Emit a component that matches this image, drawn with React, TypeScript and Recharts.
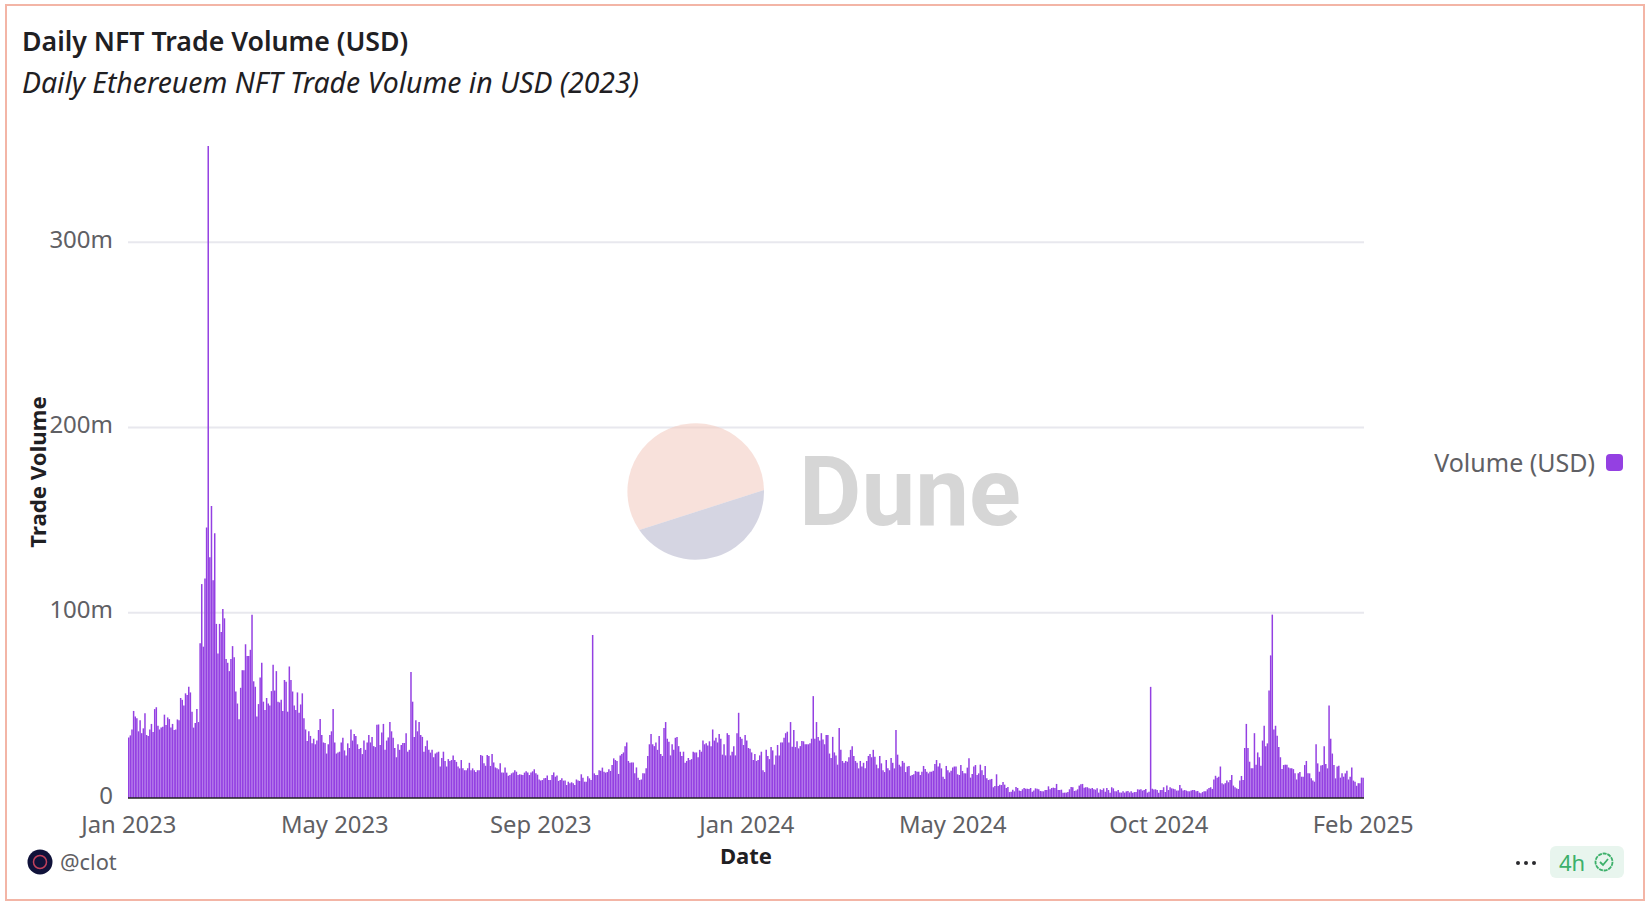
import { Bar, BarChart, CartesianGrid, Legend, XAxis, YAxis } from "recharts"

// daily volume in millions of USD, in date order
const volumeEarly2023 = [
  32.7, 33.8, 37, 47, 44, 43, 36, 42, 35, 37.6, 45.7, 34, 33.5, 37, 40, 35.6, 48, 49, 39, 37, 38, 38.5, 45, 39.4, 43.5,
  42.6, 38, 40, 36.7, 37, 42.4, 42, 54, 53, 50, 56.5, 55.6, 60, 57, 46.6, 38, 40.5, 48, 41, 83.6, 115.5, 81.7, 118.5,
  146, 352, 130, 157.7, 117.6, 143, 94, 78, 94, 89.6, 102, 97, 75, 73, 68.5, 75, 82, 76, 57.5, 51, 42.5, 59.5, 69, 69,
  83, 76.6, 76.6, 80, 99, 63, 60, 44, 50.7, 65, 73, 52, 47.5, 54, 51, 50, 57.7, 72, 58, 68.5, 52, 51.6, 53, 47, 63.7,
  62.8, 46.6, 71, 63.7, 57.5, 50, 47.5, 57, 46, 50.5, 56.5, 43, 37, 30.8, 36, 33.5, 29.5, 32, 29, 31, 36.7, 42.6, 34,
  30, 29.7, 24, 29, 34, 36, 48, 30, 24, 24.6, 25, 30, 32.5, 25.7, 23, 29.5, 27, 37, 31, 34.5, 33.5, 29, 26.4, 27, 23.7,
  31, 26, 30, 34, 30, 33, 28, 27.5, 39.5, 39.7, 28.6, 35.4, 40, 26, 31, 32.7, 41, 36, 32.5, 27, 22, 29, 26, 28.6, 29.7,
  29.7, 35, 25, 26, 68, 52, 33,
]
const volumeSummer2023 = [
  42, 36, 41, 34, 33, 25, 28, 31, 26, 24.5, 26, 22, 24, 24.5, 25, 17, 21.6, 25, 20, 17, 21, 20, 20.5, 23, 20.5, 19.5,
  17, 16, 20.5, 16, 15, 15, 16, 19, 15, 16, 15, 14, 15, 15,
]
const volumeAutumn2023 = [
  23.2, 22.8, 18.7, 17.4, 23.2, 22.7, 17.3, 23.7, 19.2, 16.5, 16, 15.5, 18.7, 13.7, 13.7, 16.5, 13.7, 12, 12.4, 13.3,
  13.8, 15, 14.2, 12.4, 12.8, 12.6, 12.4, 13.7, 14.4, 13.8, 12.4, 13.7, 14.4, 15.5, 13.3, 12.6, 10, 9.4, 9.7, 10.6,
  10.8, 12.2, 9.7, 9.7, 12.4, 13.8, 11.5, 12.2, 9.2, 9.7, 10.6, 9.4, 9.4, 7, 8.8, 8, 8.5, 8, 7, 10, 9.4, 9.2, 12.8, 11,
  8.8, 8.8, 11.7, 10.6, 9.7, 88,
]
const volumeLate2023 = [
  13.3, 12.4, 12.4, 15, 14.7, 16.4, 14.2, 13.7, 14, 15.5, 14.6, 17.8, 21.4, 20.5, 20, 13, 23, 23.7, 24.6, 27.9, 30, 20,
  19, 19.2, 19.2, 13.3, 16.5, 11, 9.7, 10, 13.3, 13.3, 16, 22.7, 29, 34.5, 29, 28, 30, 26, 33.5, 23.7, 22.7, 37.8, 41,
  32, 30.4, 23, 29, 26, 32.5, 33, 28, 25, 22.7, 25, 19, 20, 21.6, 20.5, 21, 25, 24.5, 24.6, 22, 26, 25,
]
const volumeEarly2024 = [
  31, 29, 29.5, 28.4, 30.6, 28, 37, 31, 32.5, 30, 34.5, 32, 23.4, 29, 23, 35, 34, 23, 25, 28, 23, 35, 46, 33, 32, 28.6,
  34, 31, 27, 26.6, 24.6, 20.5, 23.7, 20, 20.5, 23, 25, 15, 14, 26, 22.7, 21, 27.5, 25.7, 18, 23, 28.6, 23, 30, 30,
  32.5, 35, 35.8, 30, 41, 27.7, 36.7, 27.5, 30.6, 26.8, 28, 30.8, 30.6, 29, 29, 29, 29.5, 32, 55, 32, 41, 33, 31, 35,
  31.6, 29, 34, 34, 24, 21.6, 33, 24.6, 23, 18, 37.8, 26, 20, 19, 20, 19.6, 22, 26, 28, 22.7, 20, 19, 16, 20, 17, 19,
  16, 20, 22.7, 23.7, 22, 26, 22.3, 18, 16, 22.7, 18.7, 15, 14, 20.5, 16, 15, 21.6, 19, 16, 36.7, 23.4, 18, 17, 20, 19,
]
const volumeMid2024 = [
  14, 17, 17.3, 12, 12.4, 12.8, 14.6, 14.2, 14.2, 12.4, 14.2, 17.3, 15.6, 14.2, 13.3, 14.2, 14.2, 14.7, 18.3, 20.5, 17,
  18.7, 16, 11.5, 10.3, 17.3, 15, 13.8, 14.7, 16.4, 17, 17, 12.8, 12.4, 17.8, 14.6, 13.3, 13.3, 16.4, 21.4, 11, 13, 17,
  17.8, 12.4, 13.3, 18, 15, 12.4, 17.3, 10.6, 9.7, 10, 10.3, 5.8, 6.5, 12.8, 6.5, 7.2, 7, 8.6, 7.2, 5.4, 6, 3.2, 3.4,
  4.5, 3.6, 6, 5.4, 4, 3.8, 4.7, 5.4, 5, 5, 4.9, 5.4, 3.4, 4, 5.2, 5, 4.7, 3.8, 3.6, 3.6, 4.3, 4.3, 6.3, 4.7, 5.4, 5.6,
  5.4, 7.6, 4.3, 4.3, 4.5, 2.9, 2.9, 2.9, 3.2, 4.7, 6, 5.8, 3.8, 4, 4.7,
]
const volumeSeptember2024 = [
  6.7, 7.4, 7.6, 5.6, 5.8, 5.8, 5.2, 5, 5.4, 4.7, 4.5, 5.2, 2.9, 4.7, 4.3, 5.2, 3.4, 5.4, 4.3, 2.9, 5.8, 5.2, 3.6, 3.6,
  4.3, 3, 2.9, 3.6, 2.9, 3.6, 3.8, 3, 3.6, 2.9, 3.2, 3.2, 4.7, 4.5, 4.7, 4, 4.3, 4.9, 2.9, 3.4, 60,
]
const volumeAutumn2024 = [
  5, 4.6, 4.7, 4.3, 2.9, 4.3, 4.3, 5.8, 3.2, 6.8, 4.3, 5.8, 5.2, 5, 4.7, 4, 4, 7, 5.2, 4, 4.3, 4, 3.6, 3.6, 4, 4.3, 4.3,
  3.6, 3.8, 2.9, 2.5, 3.2, 3.6, 3.6, 4.7, 5.4, 5.8, 4.9, 10, 12, 11, 11.5, 17, 8, 7.4, 8, 9.4, 8.5, 9.7, 12.4, 6.7, 5.8,
  5.2, 4.9, 9.4, 11.9, 9.7,
]
const volumeWinter2024 = [
  27, 40, 27, 19.6, 16, 16, 35, 18, 24.6, 22, 17.4, 31, 39, 28, 29.5, 58, 77, 99, 37, 39, 33.6, 27.5, 22, 15.6, 17.8, 18,
  18, 16.5, 16, 16, 15.6, 13.3, 10, 13.3, 14, 11.5, 11.5, 17.8, 20, 13.3, 13.3, 10.6, 9.4, 8.8, 29, 18.7, 14.2, 17.6,
  17.8, 28, 18.3, 16, 50, 32, 24, 17.8, 10.6, 17, 17.4, 11, 13.3, 11.5, 13.3, 14.7, 10, 11.5, 16.5, 9.4, 8.8, 6.6, 8, 8,
  11, 11,
]

const volumes = [
  ...volumeEarly2023,
  ...volumeSummer2023,
  ...volumeAutumn2023,
  ...volumeLate2023,
  ...volumeEarly2024,
  ...volumeMid2024,
  ...volumeSeptember2024,
  ...volumeAutumn2024,
  ...volumeWinter2024,
]

const tickDays = [0, 127, 254, 381, 508, 635, 761]
const tickLabels = ["Jan 2023", "May 2023", "Sep 2023", "Jan 2024", "May 2024", "Oct 2024", "Feb 2025"]
const yTicks = [0, 100, 200, 300]

const data = volumes.map((volume, day) => ({ day, volume }))

const textColor = "#5f6064"
const font = "'Noto Sans', sans-serif"

function LegendBox() {
  return (
    <div style={{ display: "flex", alignItems: "center", justifyContent: "flex-end", fontSize: 25, color: textColor }}>
      <span>Volume (USD)</span>
      <span style={{ width: 17, height: 17, marginLeft: 11, borderRadius: 4, background: "#9440e2" }} />
    </div>
  )
}

function DuneMark() {
  return (
    <svg width={1650} height={904} style={{ position: "absolute", left: 0, top: 0, pointerEvents: "none" }}>
      <path d="M 639.3 530 A 68.3 68.3 0 1 1 764 490 Z" fill="#f3c9bd" fillOpacity={0.55} />
      <path d="M 639.3 530 A 68.3 68.3 0 0 0 764 490 Z" fill="#c3c3d6" fillOpacity={0.7} />
      <text x={799} y={525} fontSize={96} fontWeight={700} fontFamily="Roboto, sans-serif" fill="#d6d6d6">
        Dune
      </text>
    </svg>
  )
}

export default function App() {
  return (
    <div style={{ position: "absolute", left: 0, top: 0, width: 1650, height: 904, background: "#fff", fontFamily: font }}>
      <div style={{ position: "absolute", left: 5, top: 4, width: 1636, height: 893, border: "2px solid #f3b5a6" }} />
      <div style={{ position: "absolute", left: 22, top: 22, fontSize: 26.7, fontWeight: 600, color: "#1f2023" }}>
        Daily NFT Trade Volume (USD)
      </div>
      <div style={{ position: "absolute", left: 22, top: 63, fontSize: 28.4, fontStyle: "italic", color: "#1f2023" }}>
        Daily Ethereuem NFT Trade Volume in USD (2023)
      </div>

      <div style={{ position: "absolute", left: 0, top: 0 }}>
        <BarChart width={1650} height={904} data={data} margin={{ top: 146, right: 286, bottom: 0, left: 0 }}>
          <CartesianGrid vertical={false} stroke="#e8e8ee" strokeWidth={2} horizontalValues={[100, 200, 300]} />
          <XAxis
            dataKey="day"
            ticks={tickDays}
            interval={0}
            height={106}
            tickLine={false}
            tickMargin={12}
            tickFormatter={(day) => tickLabels[tickDays.indexOf(day)]}
            tick={{ fontSize: 23.8, fill: textColor }}
            axisLine={{ stroke: "#222", strokeWidth: 1.5 }}
            label={{ value: "Date", position: "insideBottom", offset: 40, fontSize: 22, fontWeight: 700, fill: "#1f2023" }}
          />
          <YAxis
            width={128}
            domain={[0, 352]}
            ticks={yTicks}
            allowDataOverflow
            axisLine={false}
            tickLine={false}
            tickMargin={9}
            tickFormatter={(v) => (v === 0 ? "0" : `${v}m`)}
            tick={{ fontSize: 24, fill: textColor, dy: -3 }}
            label={{
              value: "Trade Volume",
              angle: -90,
              position: "insideLeft",
              offset: 38,
              fontSize: 22.2,
              fontWeight: 700,
              fill: "#1f2023",
              style: { textAnchor: "middle" },
            }}
          />
          {/* vertical + center + middle keeps the legend out of the plot area offset */}
          <Legend
            layout="vertical"
            align="center"
            verticalAlign="middle"
            content={<LegendBox />}
            wrapperStyle={{ left: 1300, top: 445, width: 323 }}
          />
          <Bar dataKey="volume" name="Volume (USD)" fill="#9440e2" barSize={1.5} isAnimationActive={false} />
        </BarChart>
      </div>

      <DuneMark />

      <svg width={30} height={30} style={{ position: "absolute", left: 27, top: 847 }}>
        <circle cx={13} cy={15} r={12.5} fill="#10123a" />
        <circle cx={13} cy={15} r={6.5} fill="none" stroke="#c2415c" strokeWidth={1.5} />
      </svg>
      <div style={{ position: "absolute", left: 60, top: 847, fontSize: 21.8, color: textColor }}>@clot</div>
      <svg width={24} height={8} style={{ position: "absolute", left: 1514, top: 859 }}>
        <circle cx={4} cy={4} r={2} fill="#2a2a2e" />
        <circle cx={12} cy={4} r={2} fill="#2a2a2e" />
        <circle cx={20} cy={4} r={2} fill="#2a2a2e" />
      </svg>
      <div
        style={{
          position: "absolute",
          left: 1550,
          top: 846,
          width: 74,
          height: 32,
          borderRadius: 6,
          background: "#e8f5ee",
          color: "#3cb06a",
          fontSize: 22,
          lineHeight: "32px",
          paddingLeft: 9,
          boxSizing: "border-box",
        }}
      >
        4h
        <svg width={22} height={22} style={{ position: "absolute", left: 43, top: 5 }}>
          <circle cx={11} cy={11} r={8.5} fill="none" stroke="#3cb06a" strokeWidth={1.8} strokeDasharray="4 0.8" />
          <path d="M 7 11 L 10 14 L 15 8" fill="none" stroke="#3cb06a" strokeWidth={1.8} />
        </svg>
      </div>
    </div>
  )
}
